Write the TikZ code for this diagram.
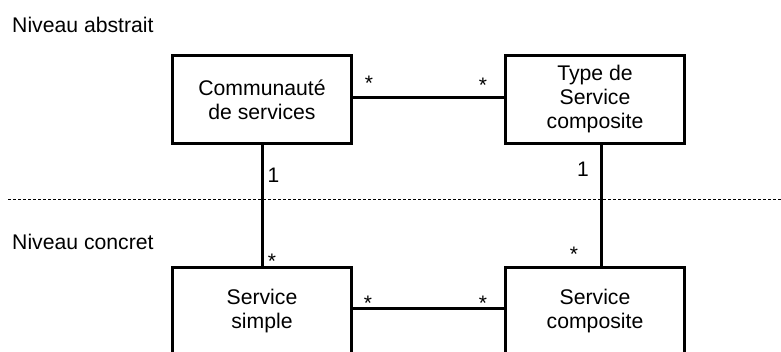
\documentclass[tikz,border=0pt]{standalone}
\usepackage{fontspec}
\setmainfont{Liberation Sans}
\begin{document}
\begin{tikzpicture}[x=1pt,y=-1pt,
  box/.style={draw,line width=3pt,minimum width=179pt,minimum height=88pt,inner sep=0pt,align=center,font=\fontsize{21.2}{24}\selectfont},
  conn/.style={line width=3pt},
  lbl/.style={anchor=base,inner sep=0pt,font=\fontsize{21}{24}\selectfont},
  level/.style={anchor=base west,inner sep=0pt,font=\fontsize{21.2}{24}\selectfont}]
\useasboundingbox (0,0) rectangle (781,351);
\node[level] (na) at (12,32) {Niveau abstrait};
\node[level] (nc) at (12,249) {Niveau concret};
\coordinate (dl) at (8,199);
\coordinate (dr) at (781,199);
\draw[line width=0.8pt,dash pattern=on 3pt off 2pt] (dl) -- (dr);
\node[box] (A) at (262,99.5) {Communauté\\de services};
\node[box] (B) at (595,99.5) {Type de\\Service\\composite};
\node[box] (C) at (262,311.5) {Service\\simple};
\node[box] (D) at (595,311.5) {Service\\composite};
\draw[conn] ([yshift=2.5pt]A.east) -- ([yshift=2.5pt]B.west);
\draw[conn] ([yshift=3.5pt]C.east) -- ([yshift=3.5pt]D.west);
\draw[conn] (A.south) -- (C.north);
\draw[conn] ([xshift=6pt]B.south) -- ([xshift=6pt]D.north);
\node[lbl] (s1) at (369,90) {*};
\node[lbl] (s2) at (483,92) {*};
\node[lbl] (o1) at (273.5,182) {1};
\node[lbl] (o2) at (583,176) {1};
\node[lbl] (s3) at (272,268) {*};
\node[lbl] (s4) at (574,261) {*};
\node[lbl] (s5) at (368,310) {*};
\node[lbl] (s6) at (483,310) {*};
\end{tikzpicture}
\end{document}
